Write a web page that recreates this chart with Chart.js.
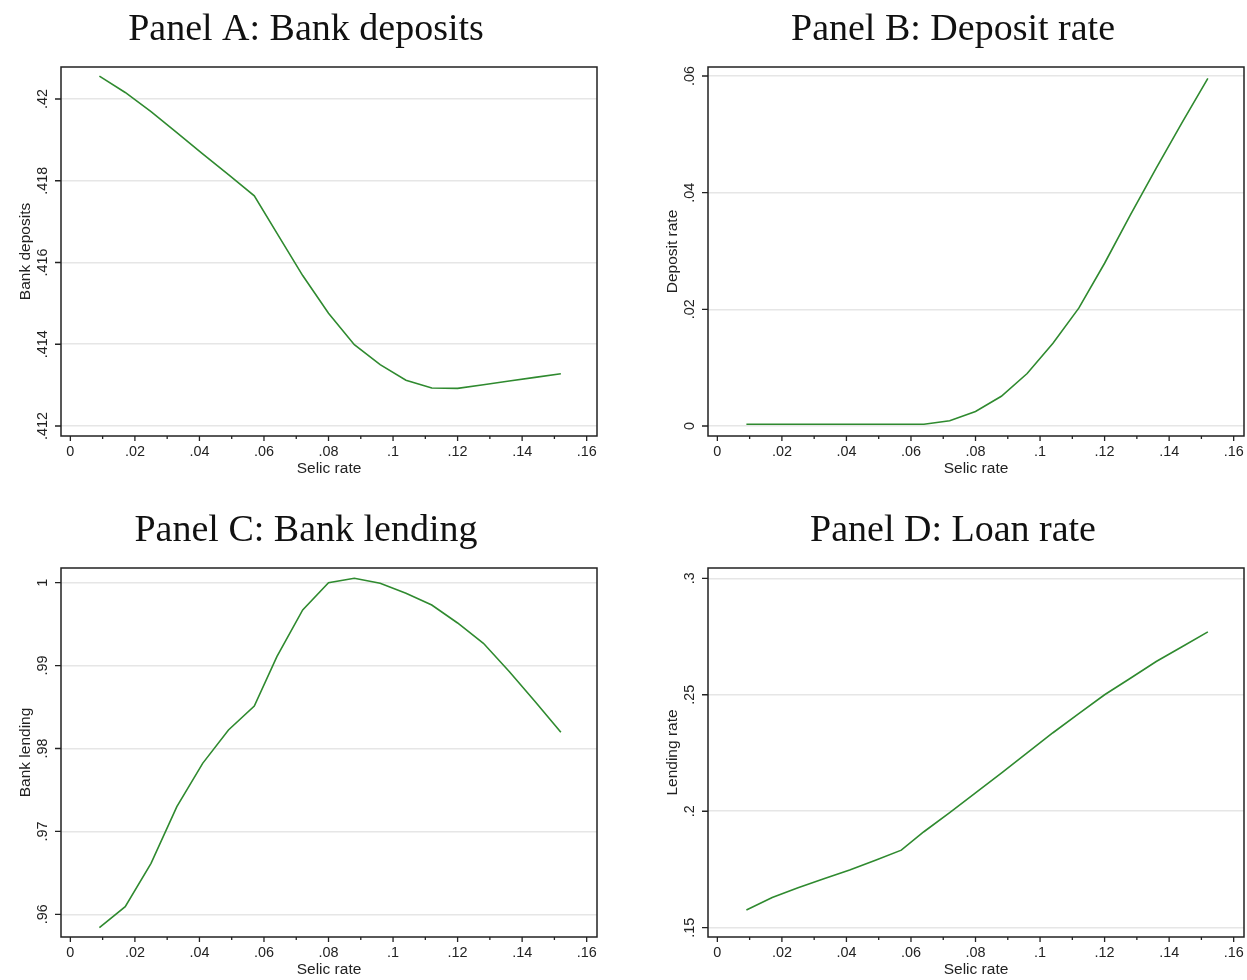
<!DOCTYPE html>
<html>
<head>
<meta charset="utf-8">
<script src="https://cdn.jsdelivr.net/npm/chart.js@4.4.0/dist/chart.umd.min.js"></script>
<style>
  html, body { margin: 0; padding: 0; background: #fff; overflow: hidden; width: 1247px; height: 980px; }
  .panel { position: absolute; width: 612px; height: 480px; }
</style>
</head>
<body>
<div class="panel" style="left:0;top:0"><canvas id="panelA"></canvas></div>
<div class="panel" style="left:647px;top:0"><canvas id="panelB"></canvas></div>
<div class="panel" style="left:0;top:501px"><canvas id="panelC"></canvas></div>
<div class="panel" style="left:647px;top:501px"><canvas id="panelD"></canvas></div>
<script>
// Selic rate grid (x) shared by all four panels
var SELIC = [0.009, 0.017, 0.025, 0.033, 0.041, 0.049, 0.057, 0.064, 0.072, 0.080,
             0.088, 0.096, 0.104, 0.112, 0.120, 0.128, 0.136, 0.144, 0.152];

var BANK_DEPOSITS = [0.42056, 0.42016, 0.41969, 0.41918, 0.41866, 0.41815, 0.41763, 0.41672, 0.41568, 0.41476,
                     0.41399, 0.41350, 0.41312, 0.41293, 0.41292, 0.41301, 0.41310, 0.41319, 0.41328];
var DEPOSIT_RATE  = [0.0003, 0.0003, 0.0003, 0.0003, 0.0003, 0.0003, 0.0003, 0.0003, 0.0009, 0.0025,
                     0.0051, 0.0090, 0.0142, 0.0202, 0.0279, 0.0362, 0.0442, 0.0520, 0.0596];
var BANK_LENDING  = [0.95838, 0.96092, 0.96615, 0.97298, 0.97821, 0.98223, 0.98513, 0.99107, 0.99671, 1.00000,
                     1.00053, 0.99993, 0.99872, 0.99731, 0.99514, 0.99269, 0.98929, 0.98567, 0.98195];
var LOAN_RATE     = [0.1576, 0.1630, 0.1671, 0.1710, 0.1748, 0.1790, 0.1833, 0.1912, 0.1994, 0.2079,
                     0.2164, 0.2251, 0.2337, 0.2419, 0.2500, 0.2571, 0.2643, 0.2706, 0.2770];

// x axis ticks
var X_MAJOR  = [0, 0.02, 0.04, 0.06, 0.08, 0.10, 0.12, 0.14, 0.16];
var X_LABELS = ['0', '.02', '.04', '.06', '.08', '.1', '.12', '.14', '.16'];
var X_MINOR  = [0.01, 0.03, 0.05, 0.07, 0.09, 0.11, 0.13, 0.15];

// y axis ticks per panel
var Y_TICKS_A  = [0.412, 0.414, 0.416, 0.418, 0.420];
var Y_LABELS_A = ['.412', '.414', '.416', '.418', '.42'];
var Y_TICKS_B  = [0, 0.02, 0.04, 0.06];
var Y_LABELS_B = ['0', '.02', '.04', '.06'];
var Y_TICKS_C  = [0.96, 0.97, 0.98, 0.99, 1.00];
var Y_LABELS_C = ['.96', '.97', '.98', '.99', '1'];
var Y_TICKS_D  = [0.15, 0.20, 0.25, 0.30];
var Y_LABELS_D = ['.15', '.2', '.25', '.3'];

var SANS = "'Liberation Sans', Arial, Helvetica, sans-serif";
var SERIF = "'Liberation Serif', 'Times New Roman', serif";
var LINE_GREEN = '#2f8a2f';
var TEXT_COLOR = '#222';

// frame, tick marks and rotated y labels, Stata style
var stataFrame = {
  id: 'stataFrame',
  afterDraw: function(chart, args, opts) {
    var ctx = chart.ctx;
    var area = chart.chartArea;
    var xs = chart.scales.x, ys = chart.scales.y;
    ctx.save();
    ctx.strokeStyle = '#222';
    ctx.lineWidth = 1.5;
    ctx.strokeRect(area.left, area.top, area.right - area.left, area.bottom - area.top);

    ctx.lineWidth = 1.3;
    ctx.beginPath();
    X_MAJOR.forEach(function(v) {
      var px = xs.getPixelForValue(v);
      ctx.moveTo(px, area.bottom);
      ctx.lineTo(px, area.bottom + 5);
    });
    X_MINOR.forEach(function(v) {
      var px = xs.getPixelForValue(v);
      ctx.moveTo(px, area.bottom);
      ctx.lineTo(px, area.bottom + 3);
    });
    opts.yTicks.forEach(function(v) {
      var py = ys.getPixelForValue(v);
      ctx.moveTo(area.left - 6, py);
      ctx.lineTo(area.left, py);
    });
    ctx.stroke();

    ctx.fillStyle = TEXT_COLOR;
    ctx.font = '14.4px ' + SANS;
    ctx.textAlign = 'center';
    ctx.textBaseline = 'middle';
    opts.yTicks.forEach(function(v, i) {
      var py = ys.getPixelForValue(v);
      ctx.save();
      ctx.translate(area.left - 17.5, py);
      ctx.rotate(-Math.PI / 2);
      ctx.fillText(opts.yLabels[i], 0, 0);
      ctx.restore();
    });
    ctx.restore();
  }
};

function makePanel(canvasId, title, yTitle, values, yMin, yMax, yTicks, yLabels) {
  var points = SELIC.map(function(x, i) { return { x: x, y: values[i] }; });
  return new Chart(document.getElementById(canvasId), {
    type: 'line',
    data: {
      datasets: [{
        data: points,
        borderColor: LINE_GREEN,
        borderWidth: 1.6,
        pointRadius: 0,
        tension: 0,
        fill: false,
      }],
    },
    plugins: [stataFrame],
    options: {
      responsive: true,
      maintainAspectRatio: false,
      animation: false,
      devicePixelRatio: 1,
      layout: { padding: { left: 15, right: 15, top: 0, bottom: 0 } },
      plugins: {
        legend: { display: false },
        tooltip: { enabled: false },
        title: {
          display: true,
          text: title,
          color: '#111',
          font: { family: SERIF, size: 38, weight: 'normal', lineHeight: 1.2 },
          padding: { top: 7, bottom: 14.4 },
        },
        stataFrame: { yTicks: yTicks, yLabels: yLabels },
      },
      scales: {
        x: {
          type: 'linear',
          min: -0.0029,
          max: 0.1632,
          afterBuildTicks: function(axis) {
            axis.ticks = X_MAJOR.map(function(v) { return { value: v }; });
          },
          afterFit: function(axis) { axis.height = 44; },
          grid: { display: false, drawTicks: false },
          border: { display: false },
          ticks: {
            autoSkip: false,
            maxRotation: 0,
            padding: 7,
            color: TEXT_COLOR,
            font: { family: SANS, size: 14.4 },
            callback: function(val) {
              var i = X_MAJOR.indexOf(val);
              return i >= 0 ? X_LABELS[i] : '';
            },
          },
          title: {
            display: true,
            text: 'Selic rate',
            color: TEXT_COLOR,
            font: { family: SANS, size: 15.5 },
            padding: { top: 0, bottom: 2 },
          },
        },
        y: {
          type: 'linear',
          min: yMin,
          max: yMax,
          afterBuildTicks: function(axis) {
            axis.ticks = yTicks.map(function(v) { return { value: v }; });
          },
          afterFit: function(axis) { axis.width = 46; },
          grid: { color: '#e6e6e6', lineWidth: 1.5, drawTicks: false },
          border: { display: false },
          ticks: { display: false },
          title: {
            display: true,
            text: yTitle,
            color: TEXT_COLOR,
            font: { family: SANS, size: 15.5 },
            padding: { top: 1, bottom: 0 },
          },
        },
      },
    },
  });
}

makePanel('panelA', 'Panel A: Bank deposits', 'Bank deposits', BANK_DEPOSITS, 0.411755, 0.420783, Y_TICKS_A, Y_LABELS_A);
makePanel('panelB', 'Panel B: Deposit rate', 'Deposit rate', DEPOSIT_RATE, -0.001714, 0.061542, Y_TICKS_B, Y_LABELS_B);
makePanel('panelC', 'Panel C: Bank lending', 'Bank lending', BANK_LENDING, 0.957262, 1.001773, Y_TICKS_C, Y_LABELS_C);
makePanel('panelD', 'Panel D: Loan rate', 'Lending rate', LOAN_RATE, 0.14601, 0.30442, Y_TICKS_D, Y_LABELS_D);
</script>
</body>
</html>
